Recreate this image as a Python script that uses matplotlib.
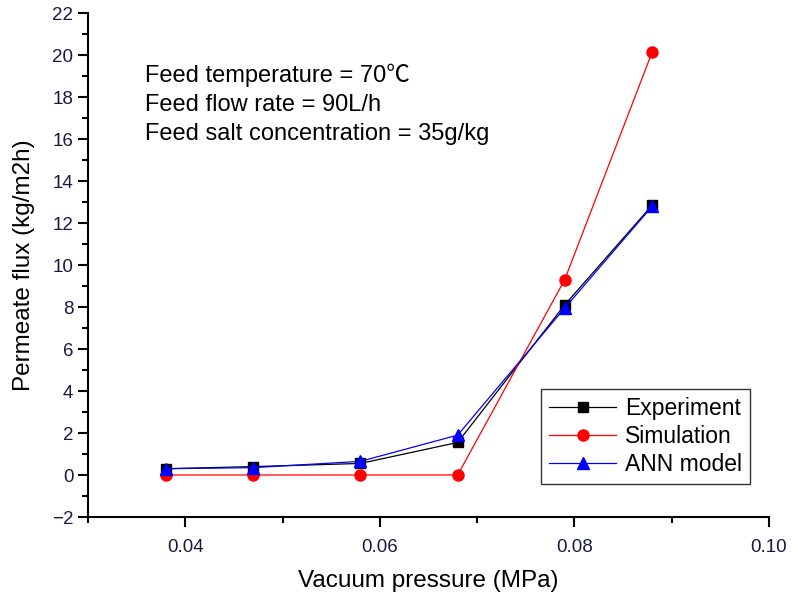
import matplotlib

matplotlib.use("Agg")
import matplotlib.pyplot as plt
from matplotlib.ticker import MultipleLocator

plt.rcParams["font.family"] = ["Liberation Sans", "Noto Sans CJK SC", "DejaVu Sans"]

pressure = [0.038, 0.047, 0.058, 0.068, 0.079, 0.088]
experiment = [0.3, 0.4, 0.55, 1.55, 8.1, 12.85]
simulation = [0.0, 0.0, 0.0, 0.0, 9.3, 20.15]
ann_model = [0.3, 0.35, 0.65, 1.9, 7.95, 12.8]

fig = plt.figure(figsize=(7.95, 6.01), dpi=100)
W, H = 795, 601
ax = fig.add_axes([88 / W, 1 - 517 / H, (769 - 88) / W, (517 - 13) / H])

ax.plot(pressure, experiment, color="black", lw=0.9, marker="s", ms=7, label="Experiment")
ax.plot(pressure, simulation, color="red", lw=0.9, marker="o", ms=8, label="Simulation")
ax.plot(pressure, ann_model, color="blue", lw=0.9, marker="^", ms=8.5, label="ANN model")

ax.set_xlim(0.03, 0.10)
ax.set_ylim(-2, 22)
ax.xaxis.set_minor_locator(MultipleLocator(0.01))
ax.yaxis.set_major_locator(MultipleLocator(2))
ax.yaxis.set_minor_locator(MultipleLocator(1))
ax.set_xticks([0.04, 0.06, 0.08, 0.10])
ax.set_xticklabels(["0.04", "0.06", "0.08", "0.10"])

for side in ("top", "right"):
    ax.spines[side].set_visible(False)
for side in ("left", "bottom"):
    ax.spines[side].set_linewidth(1.5)
ax.tick_params(which="major", direction="out", length=7, width=1.5,
               labelsize=13.5, labelcolor="#1a1a40")
ax.tick_params(axis="x", which="major", pad=9)
ax.tick_params(which="minor", direction="out", length=4, width=1.5)

ax.set_xlabel("Vacuum pressure (MPa)", fontsize=17.5, labelpad=10)
ax.set_ylabel("Permeate flux (kg/m2h)", fontsize=17.5, labelpad=12)

notes = ["Feed temperature = 70\u2103", "Feed flow rate = 90L/h",
         "Feed salt concentration = 35g/kg"]
for i, t in enumerate(notes):
    ax.text(0.03585, 19.05 - i * 1.41, t, fontsize=17, va="center")

leg = ax.legend(loc="lower right", bbox_to_anchor=(0.989, 0.042), fontsize=16.5,
                frameon=True, fancybox=False, edgecolor="black",
                handlelength=2.9, borderpad=0.35, labelspacing=0.22, handletextpad=0.4)
leg.get_frame().set_linewidth(1.0)

fig.savefig("out.png", dpi=100)
